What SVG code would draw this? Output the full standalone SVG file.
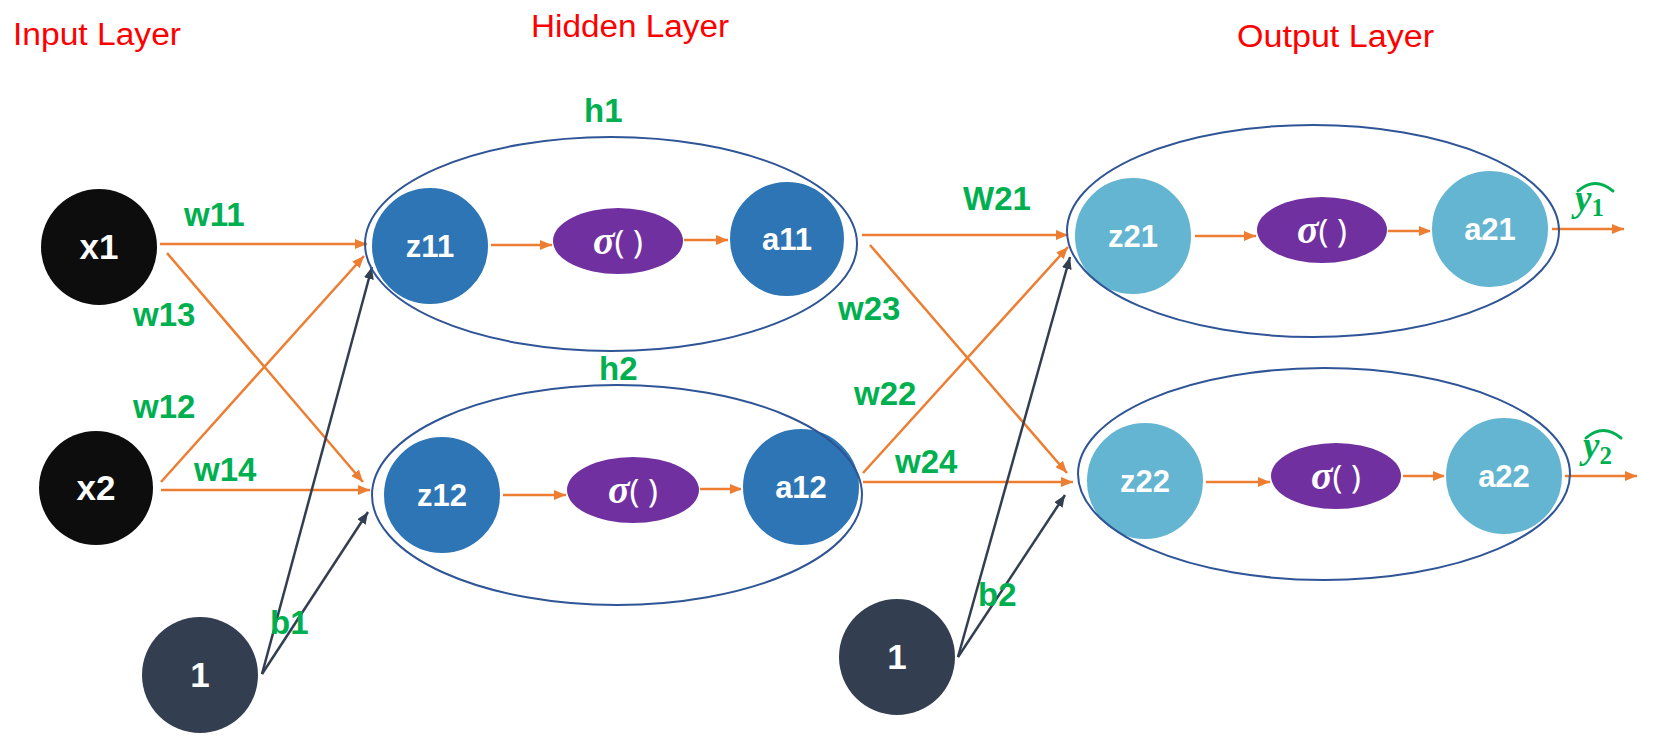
<svg xmlns="http://www.w3.org/2000/svg" width="1656" height="752" viewBox="0 0 1656 752">
<style>
.title{font-family:"Liberation Sans",Arial,sans-serif;font-size:31px;fill:#FF0000}
.lbl{font-family:"Liberation Sans",Arial,sans-serif;font-size:33px;font-weight:bold;fill:#00B050}
.nt{font-family:"Liberation Sans",Arial,sans-serif;font-size:31px;font-weight:bold;fill:#FFFFFF;text-anchor:middle}
.it{font-family:"Liberation Sans",Arial,sans-serif;font-size:35px;font-weight:bold;fill:#FFFFFF;text-anchor:middle}
.sg{font-size:34px;fill:#FFFFFF;text-anchor:middle}
.sgs{font-family:"Liberation Serif","DejaVu Serif",serif;font-style:italic;font-weight:bold;font-size:40px}
.sgp{font-family:"Noto Sans","Liberation Sans",sans-serif;font-weight:normal;font-size:33px}
.inp{fill:#0D0D0D}
.bias{fill:#333F50}
.hid{fill:#2E75B6;stroke:#FFFFFF;stroke-width:2}
.out{fill:#63B5D1;stroke:#FFFFFF;stroke-width:2}
.sig{fill:#7030A0}
.grp{fill:none;stroke:#2F5597;stroke-width:2}
.o{stroke:#ED7D31;stroke-width:2.5;fill:none;marker-end:url(#ao)}
.d{stroke:#333F50;stroke-width:2.5;fill:none;marker-end:url(#ad)}
.yh{font-family:"Liberation Serif","DejaVu Serif",serif;font-weight:bold;fill:#00B050}
.hat{fill:none;stroke:#00B050;stroke-width:3;stroke-linecap:round;stroke-linejoin:round}
</style>
<defs>
<marker id="ao" viewBox="0 0 12 10" refX="12" refY="5" markerWidth="12" markerHeight="10" markerUnits="userSpaceOnUse" orient="auto"><path d="M0,0 L12,5 L0,10 z" fill="#ED7D31"/></marker>
<marker id="ad" viewBox="0 0 12 10" refX="12" refY="5" markerWidth="12" markerHeight="10" markerUnits="userSpaceOnUse" orient="auto"><path d="M0,0 L12,5 L0,10 z" fill="#333F50"/></marker>
</defs>
<rect width="1656" height="752" fill="#FFFFFF"/>

<g id="titles">
<text class="title" x="13" y="45" textLength="168" lengthAdjust="spacingAndGlyphs">Input Layer</text>
<text class="title" x="531" y="37" textLength="198" lengthAdjust="spacingAndGlyphs">Hidden Layer</text>
<text class="title" x="1237" y="47" textLength="197" lengthAdjust="spacingAndGlyphs">Output Layer</text>
</g>

<g id="connectors">
<line class="o" x1="160" y1="244" x2="367" y2="244"/>
<line class="o" x1="167" y1="253" x2="363" y2="482"/>
<line class="o" x1="161" y1="482" x2="364" y2="256"/>
<line class="o" x1="161" y1="490" x2="370" y2="490"/>
<line class="d" x1="262" y1="674" x2="372" y2="267"/>
<line class="d" x1="262" y1="674" x2="368" y2="512"/>
<line class="o" x1="491" y1="245" x2="552" y2="245"/>
<line class="o" x1="684" y1="240" x2="728" y2="240"/>
<line class="o" x1="503" y1="495" x2="566" y2="495"/>
<line class="o" x1="700" y1="489" x2="742" y2="489"/>
<line class="o" x1="862" y1="235" x2="1068" y2="235"/>
<line class="o" x1="870" y1="245" x2="1067" y2="473"/>
<line class="o" x1="863" y1="473" x2="1068" y2="247"/>
<line class="o" x1="863" y1="482" x2="1073" y2="482"/>
<line class="d" x1="958" y1="657" x2="1070" y2="257"/>
<line class="d" x1="958" y1="657" x2="1065" y2="495"/>
<line class="o" x1="1195" y1="236" x2="1256" y2="236"/>
<line class="o" x1="1388" y1="231" x2="1431" y2="231"/>
<line class="o" x1="1206" y1="482" x2="1270" y2="482"/>
<line class="o" x1="1403" y1="476" x2="1445" y2="476"/>
<line class="o" x1="1552" y1="229" x2="1624" y2="229"/>
<line class="o" x1="1565" y1="476" x2="1637" y2="476"/>
</g>

<g id="edge-labels">
<text class="lbl" x="184" y="226">w11</text>
<text class="lbl" x="133" y="326">w13</text>
<text class="lbl" x="133" y="418">w12</text>
<text class="lbl" x="194" y="481">w14</text>
<text class="lbl" x="270" y="634">b1</text>
<text class="lbl" x="963" y="210">W21</text>
<text class="lbl" x="838" y="320">w23</text>
<text class="lbl" x="854" y="405">w22</text>
<text class="lbl" x="895" y="473">w24</text>
<text class="lbl" x="978" y="606">b2</text>
</g>

<g id="x1"><circle class="inp" cx="99" cy="247" r="58"/><text class="it" x="99" y="259">x1</text></g>
<g id="x2"><circle class="inp" cx="96" cy="488" r="57"/><text class="it" x="96" y="500">x2</text></g>
<g id="bias1"><circle class="bias" cx="200" cy="675" r="58"/><text class="it" x="200" y="687">1</text></g>
<g id="bias2"><circle class="bias" cx="897" cy="657" r="58"/><text class="it" x="897" y="669">1</text></g>

<g id="h1">
<text class="lbl" x="584" y="122">h1</text>
<circle class="hid" cx="430" cy="246" r="59"/><text class="nt" x="430" y="257">z11</text>
<ellipse class="sig" cx="618" cy="241" rx="65" ry="33"/>
<text class="sg" x="618" y="254"><tspan class="sgs">σ</tspan><tspan class="sgp">( )</tspan></text>
<circle class="hid" cx="787" cy="239" r="58"/><text class="nt" x="787" y="250">a11</text>
<ellipse class="grp" cx="611" cy="244" rx="246" ry="107"/>
</g>

<g id="h2">
<text class="lbl" x="599" y="380">h2</text>
<circle class="hid" cx="442" cy="495" r="59"/><text class="nt" x="442" y="506">z12</text>
<ellipse class="sig" cx="633" cy="490" rx="66" ry="33"/>
<text class="sg" x="633" y="503"><tspan class="sgs">σ</tspan><tspan class="sgp">( )</tspan></text>
<circle class="hid" cx="801" cy="487" r="59"/><text class="nt" x="801" y="498">a12</text>
<ellipse class="grp" cx="617" cy="495" rx="245" ry="110"/>
</g>

<g id="o1">
<circle class="out" cx="1133" cy="236" r="59"/><text class="nt" x="1133" y="247">z21</text>
<ellipse class="sig" cx="1322" cy="230" rx="65" ry="33"/>
<text class="sg" x="1322" y="243"><tspan class="sgs">σ</tspan><tspan class="sgp">( )</tspan></text>
<circle class="out" cx="1490" cy="229" r="59"/><text class="nt" x="1490" y="240">a21</text>
<ellipse class="grp" cx="1313" cy="231" rx="246" ry="106"/>
</g>

<g id="o2">
<circle class="out" cx="1145" cy="481" r="59"/><text class="nt" x="1145" y="492">z22</text>
<ellipse class="sig" cx="1336" cy="476" rx="65" ry="33"/>
<text class="sg" x="1336" y="489"><tspan class="sgs">σ</tspan><tspan class="sgp">( )</tspan></text>
<circle class="out" cx="1504" cy="476" r="59"/><text class="nt" x="1504" y="487">a22</text>
<ellipse class="grp" cx="1324" cy="474" rx="246" ry="106"/>
</g>

<g id="yhat1">
<text class="yh" x="1575" y="211" font-size="37"><tspan font-style="italic">y</tspan><tspan font-size="25" dy="5">1</tspan></text>
<path class="hat" d="M1578 191 Q1595 176 1613 191"/>
</g>
<g id="yhat2">
<text class="yh" x="1583" y="458" font-size="37"><tspan font-style="italic">y</tspan><tspan font-size="25" dy="6">2</tspan></text>
<path class="hat" d="M1586 438 Q1603 423 1621 438"/>
</g>
</svg>
